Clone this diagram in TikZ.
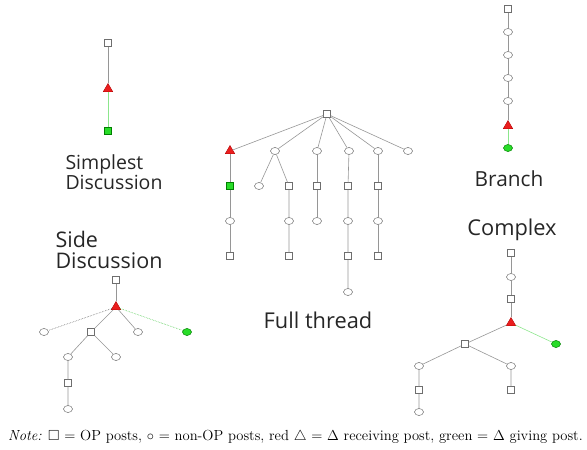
\documentclass[tikz,border=0pt]{standalone}
\usepackage{amsmath, amssymb}
\usepackage{fontspec}
\setsansfont{Open Sans}
\usepackage{tikz}
\usetikzlibrary{shapes.geometric}
\definecolor{edgegray}{RGB}{150,150,150}
\definecolor{nodegray}{RGB}{110,110,110}
\definecolor{givegreen}{RGB}{40,220,40}
\definecolor{giveline}{RGB}{140,230,140}
\definecolor{recvred}{RGB}{235,30,30}
\tikzset{
    op/.style={rectangle, draw=nodegray, fill=white, minimum size=7pt, inner sep=0pt, line width=0.5pt},
    nonop/.style={ellipse, draw=nodegray, fill=white, minimum width=9pt, minimum height=7pt, inner sep=0pt, line width=0.5pt},
    recv/.style={regular polygon, regular polygon sides=3, draw=red!70!black, fill=recvred, minimum size=11pt, inner sep=0pt, line width=0.4pt},
    giveop/.style={op, draw=green!50!black, fill=givegreen},
    givenonop/.style={nonop, draw=green!50!black, fill=givegreen},
    link/.style={draw=edgegray, line width=0.6pt},
    glink/.style={draw=giveline, line width=0.6pt},
    dlink/.style={link, densely dotted, draw=nodegray},
    gdlink/.style={glink, densely dotted, draw=green!70!black!70},
    caption/.style={font=\sffamily\fontsize{21.8}{21}\selectfont, align=left, text=black!85},
    note/.style={font=\fontsize{14.6}{16}\selectfont}
}
\begin{document}
\begin{tikzpicture}[x=1pt, y=-1pt]
    \useasboundingbox (0,0) rectangle (587,450);

    % Simplest discussion
    \node[op] (Sa) at (108,43) {};
    \node[recv] (Sb) at (108,89) {};
    \node[giveop] (Sc) at (108,131) {};
    \draw[link] (Sa) -- (Sb);
    \draw[glink] (Sb) -- (Sc);
    \node[caption, font=\sffamily\fontsize{19.5}{18.5}\selectfont] (SimpleLbl) at (114,172) {Simplest\\Discussion};

    % Branch
    \node[op] (Ba) at (508,9) {};
    \node[nonop] (Bb) at (508,32) {};
    \node[nonop] (Bc) at (508,55) {};
    \node[nonop] (Bd) at (508,78) {};
    \node[nonop] (Be) at (508,101) {};
    \node[recv] (Bf) at (508,126) {};
    \node[givenonop] (Bg) at (508,148) {};
    \draw[link] (Ba) -- (Bb) -- (Bc) -- (Bd) -- (Be) -- (Bf);
    \draw[glink] (Bf) -- (Bg);
    \node[caption, font=\sffamily\fontsize{20.8}{20}\selectfont] (BranchLbl) at (509,179) {Branch};

    % Full thread
    \node[op] (Root) at (327,114) {};
    \node[recv] (Fa1) at (230,151) {};
    \node[nonop] (Fb1) at (275,151) {};
    \node[nonop] (Fc1) at (317,151) {};
    \node[nonop] (Fd1) at (349,151) {};
    \node[nonop] (Fe1) at (378,151) {};
    \node[nonop] (Ff1) at (408,151) {};
    \node[giveop] (Fa2) at (230,186) {};
    \node[nonop] (Fb2) at (259,186) {};
    \node[op] (Fg2) at (289,186) {};
    \node[op] (Fc2) at (317,186) {};
    \node[op] (Fd2) at (348,186) {};
    \node[op] (Fe2) at (378,186) {};
    \node[nonop] (Fa3) at (230,221) {};
    \node[nonop] (Fg3) at (289,221) {};
    \node[nonop] (Fc3) at (317,221) {};
    \node[nonop] (Fd3) at (348,221) {};
    \node[nonop] (Fe3) at (378,221) {};
    \node[op] (Fa4) at (230,256) {};
    \node[op] (Fg4) at (289,256) {};
    \node[op] (Fd4) at (348,256) {};
    \node[op] (Fe4) at (378,256) {};
    \node[nonop] (Fd5) at (348,292) {};
    \draw[link] (Root) -- (Fa1);
    \draw[link] (Root) -- (Fb1);
    \draw[link] (Root) -- (Fc1);
    \draw[link] (Root) -- (Fd1);
    \draw[link] (Root) -- (Fe1);
    \draw[link] (Root) -- (Ff1);
    \draw[link] (Fa1) -- (Fa2) -- (Fa3) -- (Fa4);
    \draw[link] (Fb1) -- (Fb2);
    \draw[link] (Fb1) -- (Fg2) -- (Fg3) -- (Fg4);
    \draw[link] (Fc1) -- (Fc2) -- (Fc3);
    \draw[link] (Fd1) -- (Fd2) -- (Fd3) -- (Fd4) -- (Fd5);
    \draw[link] (Fe1) -- (Fe2) -- (Fe3) -- (Fe4);
    \node[caption] (FullLbl) at (318,320) {Full thread};

    % Side discussion
    \node[caption, font=\sffamily\fontsize{21.5}{21}\selectfont] (SideLbl) at (109,250) {Side\\Discussion};
    \node[op] (Da) at (116,280) {};
    \node[recv] (Db) at (116,307) {};
    \node[nonop] (Dc) at (44,332) {};
    \node[op] (Dd) at (91,332) {};
    \node[nonop] (De) at (138,332) {};
    \node[givenonop] (Df) at (187,332) {};
    \node[nonop] (Dg) at (68,357) {};
    \node[nonop] (Dh) at (116,357) {};
    \node[op] (Di) at (68,383) {};
    \node[nonop] (Dj) at (68,409) {};
    \draw[link] (Da) -- (Db);
    \draw[dlink] (Db) -- (Dc);
    \draw[link] (Db) -- (Dd);
    \draw[link] (Db) -- (De);
    \draw[gdlink] (Db) -- (Df);
    \draw[link] (Dd) -- (Dg) -- (Di) -- (Dj);
    \draw[link] (Dd) -- (Dh);

    % Complex
    \node[caption] (ComplexLbl) at (512,230) {Complex};
    \node[op] (Ca) at (511,253) {};
    \node[nonop] (Cb) at (511,277) {};
    \node[op] (Cc) at (511,299) {};
    \node[recv] (Cd) at (511,323) {};
    \node[givenonop] (Ce) at (556,344) {};
    \node[op] (Cf) at (465,344) {};
    \node[nonop] (Cg) at (419,366) {};
    \node[nonop] (Ch) at (511,366) {};
    \node[op] (Ci) at (419,390) {};
    \node[op] (Cj) at (511,390) {};
    \node[nonop] (Ck) at (419,412) {};
    \draw[link] (Ca) -- (Cb) -- (Cc) -- (Cd);
    \draw[glink] (Cd) -- (Ce);
    \draw[link] (Cd) -- (Cf);
    \draw[link] (Cf) -- (Cg) -- (Ci) -- (Ck);
    \draw[link] (Cf) -- (Ch) -- (Cj);

    % Note
    \node[note] (Note) at (295.5,437) {\textit{Note:} $\square$ = OP posts, $\circ$ = non-OP posts, red $\triangle$ = $\Delta$ receiving post, green = $\Delta$ giving post.};
\end{tikzpicture}
\end{document}
